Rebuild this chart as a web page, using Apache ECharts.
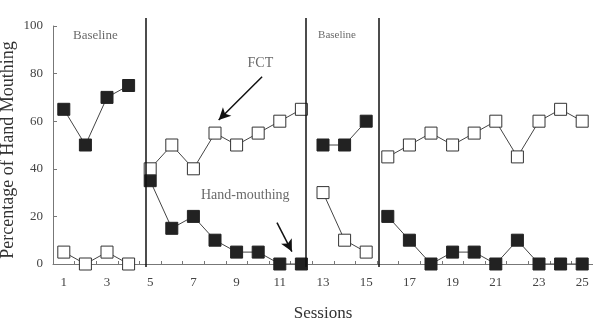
<!DOCTYPE html>
<html><head><meta charset="utf-8">
<script src="https://cdn.jsdelivr.net/npm/echarts@6/dist/echarts.min.js"></script>
<style>html,body{margin:0;padding:0;background:#fff}#c{width:593px;height:330px}</style>
</head><body><div id="c"></div>
<script>
const sessions = ['1','2','3','4','5','6','7','8','9','10','11','12','13','14','15','16','17','18','19','20','21','22','23','24','25'];
const yTicks = [0, 20, 40, 60, 80, 100];
// phase start sessions
const phaseStarts = [1, 5, 13, 16];
// hand-mouthing (filled squares) per phase
const hmPhase1 = [65, 50, 70, 75];
const hmPhase2 = [35, 15, 20, 10, 5, 5, 0, 0];
const hmPhase3 = [50, 50, 60];
const hmPhase4 = [20, 10, 0, 5, 5, 0, 10, 0, 0, 0];
// FCT (open squares) per phase
const fctPhase1 = [5, 0, 5, 0];
const fctPhase2 = [40, 50, 40, 55, 50, 55, 60, 65];
const fctPhase3 = [30, 10, 5];
const fctPhase4 = [45, 50, 55, 50, 55, 60, 45, 60, 65, 60];
// phase change lines (session position)
const phaseLines = [4.8, 12.2, 15.6];
// annotations [session, value, text, fontSize]
const notes = [[2.46, 96, 'Baseline', 13], [13.65, 96, 'Baseline', 11], [10.1, 84.5, 'FCT', 14], [9.4, 29, 'Hand-mouthing', 14]];
// arrows [[fromSession, fromValue], [toSession, toValue]]
const arrows = [[[10.18, 78.7], [8.17, 60.5]], [[10.87, 17.4], [11.56, 5.2]]];

const serif = '"Liberation Serif","DejaVu Serif",serif';
const hmPhases = [hmPhase1, hmPhase2, hmPhase3, hmPhase4];
const fctPhases = [fctPhase1, fctPhase2, fctPhase3, fctPhase4];

function toPairs(start, arr) { return arr.map((v, i) => [start + i, v]); }

const series = [];
hmPhases.forEach((arr, p) => {
  series.push({
    type: 'line', xAxisIndex: 1, yAxisIndex: 0, data: toPairs(phaseStarts[p], arr),
    symbol: 'rect', symbolSize: 12, z: 3,
    itemStyle: { color: '#222', borderColor: '#222', borderWidth: 1 },
    lineStyle: { color: '#444', width: 1 }, animation: false
  });
});
fctPhases.forEach((arr, p) => {
  series.push({
    type: 'line', xAxisIndex: 1, yAxisIndex: 0, data: toPairs(phaseStarts[p], arr),
    symbol: 'rect', symbolSize: 12, z: 3,
    itemStyle: { color: '#fff', borderColor: '#333', borderWidth: 1 },
    lineStyle: { color: '#444', width: 1 }, animation: false
  });
});
// annotations
series.push({
  type: 'scatter', xAxisIndex: 1, yAxisIndex: 0, symbolSize: 0, animation: false, silent: true,
  data: notes.map(n => ({ value: [n[0], n[1]], label: { fontSize: n[3] } })),
  label: { show: true, position: 'inside', fontFamily: serif, color: '#444',
    formatter: p => notes[p.dataIndex][2] },
  markLine: {
    silent: true, animation: false, symbol: ['none', 'arrow'], symbolSize: [9, 12],
    label: { show: false },
    lineStyle: { color: '#111', width: 1.5, type: 'solid' },
    data: arrows.map(a => [{ coord: a[0] }, { coord: a[1] }])
  }
});
// phase lines on taller grid
series.push({
  type: 'line', xAxisIndex: 2, yAxisIndex: 1, data: [], animation: false, silent: true,
  markLine: {
    silent: true, animation: false, symbol: ['none', 'none'], label: { show: false },
    lineStyle: { color: '#111', width: 1.5, type: 'solid' },
    data: phaseLines.map(x => ({ xAxis: x }))
  }
});

const chart = echarts.init(document.getElementById('c'));
chart.setOption({
  animation: false,
  grid: [
    { left: 53, right: 0, top: 26, bottom: 66, containLabel: false, outerBoundsMode: 'none' },
    { left: 53, right: 0, top: 18, bottom: 63, containLabel: false, outerBoundsMode: 'none' }
  ],
  xAxis: [
    {
      type: 'category', gridIndex: 0, data: sessions, boundaryGap: true,
      name: 'Sessions', nameLocation: 'middle', nameGap: 41, nameMoveOverlap: false,
      nameTextStyle: { fontFamily: serif, fontSize: 17, color: '#333' },
      axisLine: { lineStyle: { color: '#777', width: 1 } },
      axisTick: { show: true, inside: true, length: 3, interval: 0, alignWithLabel: false, lineStyle: { color: '#777' } },
      axisLabel: { interval: 1, margin: 12, fontFamily: serif, fontSize: 13, color: '#444' },
      splitLine: { show: false }
    },
    { type: 'value', gridIndex: 0, min: 0.5, max: 25.5, show: false },
    { type: 'value', gridIndex: 1, min: 0.5, max: 25.5, show: false }
  ],
  yAxis: [
    {
      type: 'value', gridIndex: 0, min: yTicks[0], max: yTicks[yTicks.length - 1], interval: 20,
      name: 'Percentage of Hand Mouthing', nameLocation: 'middle', nameGap: 36, nameMoveOverlap: false,
      nameTextStyle: { fontFamily: serif, fontSize: 18, color: '#333', padding: [0, 10, 0, 0] },
      axisLine: { show: true, lineStyle: { color: '#777', width: 1 } },
      axisTick: { show: true, inside: true, length: 4, lineStyle: { color: '#777' } },
      axisLabel: { margin: 10, fontFamily: serif, fontSize: 13, color: '#444' },
      splitLine: { show: false }
    },
    { type: 'value', gridIndex: 1, min: 0, max: 1, show: false }
  ],
  series: series
});
</script>
</body></html>
